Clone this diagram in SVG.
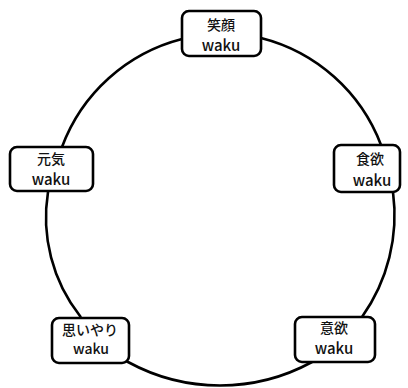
<svg xmlns="http://www.w3.org/2000/svg" width="408" height="388" viewBox="0 0 408 388">
<style>
.c{fill:none;stroke:#000;stroke-width:2.6;stroke-linecap:round}
.b{fill:#fff;stroke:#000;stroke-width:2.6}
.t{font-family:"Noto Sans CJK JP","Noto Sans",sans-serif;font-size:14px;font-weight:500;text-anchor:middle;fill:#111}
.w{font-size:15px}
</style>
<rect width="408" height="388" fill="#fff"/>
<g id="connectors">
<path class="c" d="M 221 38 L 261 38 A 174 174 0 0 1 381 145 L 381 170"/>
<path class="c" d="M 381 170 L 393 192 A 176 176 0 0 1 362 317 L 335 340"/>
<path class="c" d="M 335 340 L 312 362 A 192 192 0 0 1 128 362 L 91 340"/>
<path class="c" d="M 91 340 L 80 316 A 160 160 0 0 1 48 192 L 51 169"/>
<path class="c" d="M 51 169 L 62 147 A 174 174 0 0 1 182 39 L 221 38"/>
</g>
<g id="n1">
<rect class="b" x="182" y="11" width="79" height="45" rx="7"/>
<text class="t" x="221" y="30">笑顔</text>
<text class="t w" x="221" y="51">waku</text>
</g>
<g id="n2">
<rect class="b" x="334" y="145" width="66" height="47" rx="7"/>
<text class="t" x="370" y="164">食欲</text>
<text class="t w" x="372" y="186">waku</text>
</g>
<g id="n3">
<rect class="b" x="295" y="317" width="80" height="45" rx="7"/>
<text class="t" x="334" y="333">意欲</text>
<text class="t w" x="334" y="354">waku</text>
</g>
<g id="n4">
<rect class="b" x="52" y="318" width="77" height="45" rx="7"/>
<text class="t" x="90" y="335">思いやり</text>
<text class="t" x="91" y="354">waku</text>
</g>
<g id="n5">
<rect class="b" x="10" y="147" width="83" height="44" rx="7"/>
<text class="t" x="51" y="164">元気</text>
<text class="t w" x="51" y="185">waku</text>
</g>
</svg>
